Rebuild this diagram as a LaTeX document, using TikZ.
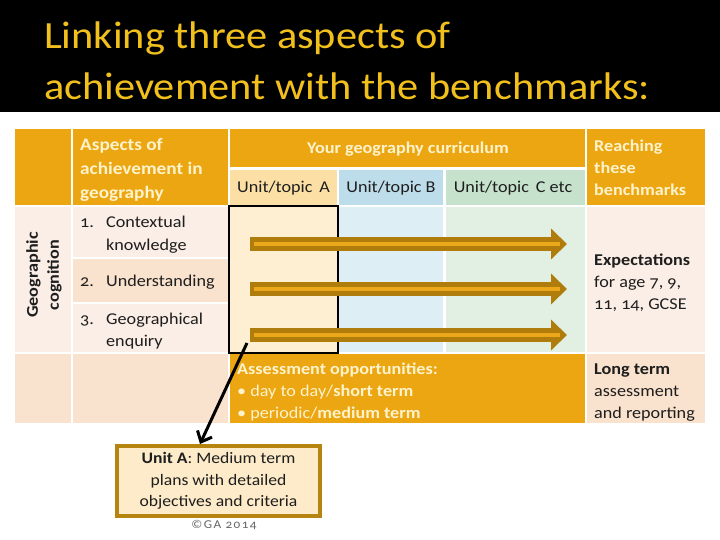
\documentclass[tikz,border=0pt]{standalone}
\usepackage{fontspec}
\setmainfont[FakeStretch=1.1,Numbers=OldStyle]{Carlito}
\newfontfamily\titlefont[FakeStretch=1.1]{Carlito}
\usetikzlibrary{arrows.meta,calc}
\definecolor{titlegold}{HTML}{F2C01C}
\definecolor{hdorange}{HTML}{EBA612}
\definecolor{cream}{HTML}{FFF3CC}
\definecolor{rowlight}{HTML}{FAEEE6}
\definecolor{rowdark}{HTML}{F9E2CE}
\definecolor{uAhead}{HTML}{FCDFA5}
\definecolor{uAbody}{HTML}{FEEFD3}
\definecolor{uBhead}{HTML}{BEDDEA}
\definecolor{uBbody}{HTML}{DDEEF4}
\definecolor{uChead}{HTML}{C6E2CC}
\definecolor{uCbody}{HTML}{E2F0E4}
\definecolor{arrdark}{HTML}{B07D0C}
\definecolor{arrlight}{HTML}{EAA81A}
\definecolor{boxedge}{HTML}{B5850F}
\definecolor{boxfill}{HTML}{FDEBC9}
\definecolor{txt}{HTML}{1E1E1E}
\tikzset{
  cell/.style={inner sep=0pt, outer sep=0pt},
  hdtext/.style={inner sep=0pt, text=cream, font=\fontsize{17.5}{24}\selectfont\bfseries},
  bodytext/.style={inner sep=0pt, text=txt, font=\fontsize{16.5}{22}\selectfont},
  bigarrow/.style={line width=14pt, arrdark, -{Triangle[length=16pt,width=30pt]}},
  arrstripe/.style={line width=3.5pt, arrlight},
}
\begin{document}
\begin{tikzpicture}[x=1pt,y=-1pt]
\useasboundingbox (0,0) rectangle (720,540);
\fill[white] (0,0) rectangle (720,540);
% title band
\fill[black] (0,0) rectangle (720,112);
\node[anchor=base west, inner sep=0pt, text=titlegold, font=\titlefont\fontsize{38.5}{51}\selectfont] (t1) at (44,49) {Linking three aspects of};
\node[anchor=base west, inner sep=0pt, text=titlegold, font=\titlefont\fontsize{38.5}{51}\selectfont] (t2) at (44,100) {achievement with the benchmarks:};
% header row
\path[fill=hdorange] (15,129) rectangle (71,205) node[cell] (hdL) {};
\path[fill=hdorange] (73,129) rectangle (228,205) node[cell] (hdAsp) {};
\path[fill=hdorange] (230,129) rectangle (585,167) node[cell] (hdCur) {};
\path[fill=uAhead] (230,170) rectangle (337,205) node[cell] (uA) {};
\path[fill=uBhead] (339,170) rectangle (443,205) node[cell] (uB) {};
\path[fill=uChead] (446,170) rectangle (585,205) node[cell] (uC) {};
\path[fill=hdorange] (587,129) rectangle (705,205) node[cell] (hdR) {};
% body rows
\path[fill=rowlight] (15,207) rectangle (71,352);
\path[fill=rowlight] (73,207) rectangle (228,257);
\path[fill=rowdark] (73,259) rectangle (228,302);
\path[fill=rowlight] (73,304) rectangle (228,352);
\path[fill=uAbody] (230,207) rectangle (337,352);
\path[fill=uBbody] (339,207) rectangle (443,352);
\path[fill=uCbody] (446,207) rectangle (585,352);
\path[fill=rowlight] (587,207) rectangle (705,352);
% last row
\path[fill=rowdark] (15,354) rectangle (71,423);
\path[fill=rowdark] (73,354) rectangle (228,423);
\path[fill=hdorange] (230,354) rectangle (585,423);
\path[fill=rowdark] (587,354) rectangle (705,423);
% unit A outline
\node[draw=black, line width=2pt, inner sep=0pt, minimum width=109pt, minimum height=147pt] (unitAbox) at (283.5,279.5) {};
% header texts
\node[hdtext, anchor=base west] (asp) at (80,151) {\parbox[t]{150pt}{\raggedright Aspects of\\achievement in\\geography}};
\node[hdtext, anchor=base, font=\fontsize{16.5}{22}\selectfont\bfseries] (cur) at (408,154) {Your geography curriculum};
\node[bodytext, anchor=base] (uAt) at (283.5,193) {Unit/topic\, A};
\node[bodytext, anchor=base] (uBt) at (391,193) {Unit/topic B};
\node[bodytext, anchor=base] (uCt) at (513,193) {Unit/topic\, C etc};
\node[hdtext, anchor=base west, font=\fontsize{16.5}{22}\selectfont\bfseries] (reach) at (594,152) {\parbox[t]{110pt}{\raggedright Reaching\\these\\benchmarks}};
% rotated label
\node[inner sep=0pt, text=txt, rotate=90, align=center, font=\fontsize{16.5}{21}\selectfont\bfseries] (geo) at (44,275) {Geographic\\cognition};
% aspects list
\node[bodytext, anchor=base west] (n1) at (80,228) {1.};
\node[bodytext, anchor=base west] (l1) at (106,228) {\parbox[t]{120pt}{\raggedright Contextual\\knowledge}};
\node[bodytext, anchor=base west] (n2) at (80,286) {2.};
\node[bodytext, anchor=base west] (l2) at (106,286) {Understanding};
\node[bodytext, anchor=base west] (n3) at (80,324) {3.};
\node[bodytext, anchor=base west] (l3) at (106,324) {\parbox[t]{120pt}{\raggedright Geographical\\enquiry}};
% expectations
\node[bodytext, anchor=base west] (exp) at (594,265) {\parbox[t]{112pt}{\raggedright\textbf{Expectations}\\for age 7, 9,\\11, 14, GCSE}};
\node[bodytext, anchor=base west] (lt) at (594,374) {\parbox[t]{112pt}{\raggedright\textbf{Long term}\\assessment\\and reporting}};
% assessment
\node[bodytext, anchor=base west, text=cream] (ass) at (237,374) {\parbox[t]{340pt}{\raggedright\textbf{Assessment opportunities:}\\\textbullet\ day to day/\textbf{short term}\\\textbullet\ periodic/\textbf{medium term}}};
% thick arrows
\coordinate (s1) at (250,244); \coordinate (e1) at (567,244);
\coordinate (s2) at (250,289); \coordinate (e2) at (567,289);
\coordinate (s3) at (250,335); \coordinate (e3) at (567,335);
\foreach \i in {1,2,3}{
  \draw[bigarrow] (s\i) -- (e\i);
  \draw[arrstripe] ($(s\i)+(4,0)$) -- ($(e\i)+(-7,0)$);
}
% bottom box
\node[draw=boxedge, line width=4pt, fill=boxfill, inner sep=0pt, minimum width=203pt, minimum height=70pt, align=center, text=txt, font=\fontsize{16}{21.5}\selectfont] (unitbox) at (218.5,481) {\textbf{Unit A}: Medium term\\plans with detailed\\objectives and criteria};
\node[inner sep=0pt, text=black!60, font=\fontsize{12}{13}\selectfont\addfontfeature{LetterSpace=12}] (copy) at (224,525) {©GA 2014};
% black pointer
\coordinate (aStart) at (247,343);
\draw[line width=3pt, black, -{Straight Barb[length=9pt,width=16pt]}] (aStart) -- ($(unitbox.north)+(-18.5,0)$);
\end{tikzpicture}
\end{document}
